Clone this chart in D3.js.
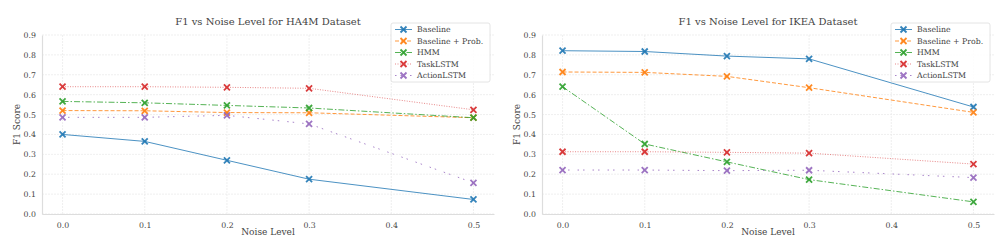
<!DOCTYPE html>
<html>
<head>
<meta charset="utf-8">
<script src="https://cdn.jsdelivr.net/npm/d3@7"></script>
<style>
  body { margin: 0; background: #fff; }
  text { font-family: "DejaVu Serif", serif; fill: #444; }
</style>
</head>
<body>
<div id="chart"></div>
<script>
// data
var noiseLevels = [0.0, 0.1, 0.2, 0.3, 0.5];
var xTicks = [0.0, 0.1, 0.2, 0.3, 0.4, 0.5];
var yTicks = [0.0, 0.1, 0.2, 0.3, 0.4, 0.5, 0.6, 0.7, 0.8, 0.9];
var methods = ["Baseline", "Baseline + Prob.", "HMM", "TaskLSTM", "ActionLSTM"];

var ha4mBaseline   = [0.400, 0.365, 0.270, 0.175, 0.073];
var ha4mProb       = [0.520, 0.519, 0.510, 0.509, 0.484];
var ha4mHMM        = [0.566, 0.559, 0.546, 0.533, 0.484];
var ha4mTask       = [0.640, 0.640, 0.637, 0.632, 0.524];
var ha4mAction     = [0.486, 0.486, 0.496, 0.453, 0.157];

var ikeaBaseline   = [0.821, 0.817, 0.794, 0.780, 0.538];
var ikeaProb       = [0.714, 0.712, 0.692, 0.635, 0.511];
var ikeaHMM        = [0.640, 0.352, 0.262, 0.173, 0.061];
var ikeaTask       = [0.313, 0.313, 0.310, 0.306, 0.251];
var ikeaAction     = [0.221, 0.221, 0.218, 0.220, 0.183];

var colors = ["#1f77b4", "#ff7f0e", "#2ca02c", "#d62728", "#9467bd"];
var dashes = [null, "4,2", "6,2,1.5,2", "1,1.5", "1.5,4,1.5,8"];

var svg = d3.select("#chart").append("svg")
    .attr("width", 1000)
    .attr("height", 244);

function drawPanel(offsetX, title, seriesList) {
  var margin = {top: 35, left: 42, width: 452, height: 179};
  var g = svg.append("g")
      .attr("transform", "translate(" + (offsetX + margin.left) + "," + margin.top + ")");

  var x = d3.scaleLinear().domain([-0.025, 0.525]).range([0, margin.width]);
  var y = d3.scaleLinear().domain([0, 0.9]).range([margin.height, 0]);

  // grid
  g.selectAll(".gx").data(xTicks).enter().append("line")
      .attr("x1", function(d) { return x(d); }).attr("x2", function(d) { return x(d); })
      .attr("y1", 0).attr("y2", margin.height)
      .attr("stroke", "#ebebeb").attr("stroke-width", 0.8).attr("stroke-dasharray", "2,1");
  g.selectAll(".gy").data(yTicks).enter().append("line")
      .attr("x1", 0).attr("x2", margin.width)
      .attr("y1", function(d) { return y(d); }).attr("y2", function(d) { return y(d); })
      .attr("stroke", "#ebebeb").attr("stroke-width", 0.8).attr("stroke-dasharray", "2,1");

  // axes
  var xAxis = g.append("g")
      .attr("transform", "translate(0," + margin.height + ")")
      .call(d3.axisBottom(x).tickValues(xTicks).tickFormat(d3.format(".1f")).tickSize(0).tickPadding(8));
  var yAxis = g.append("g")
      .call(d3.axisLeft(y).tickValues(yTicks).tickFormat(d3.format(".1f")).tickSize(0).tickPadding(6));
  [xAxis, yAxis].forEach(function(a) {
    a.select(".domain").attr("stroke", "#ddd").attr("stroke-width", 1.2);
    a.selectAll("text").style("font-family", "DejaVu Serif").style("font-size", "7.8px").attr("fill", "#555");
  });

  // lines and markers
  var line = d3.line()
      .x(function(d, i) { return x(noiseLevels[i]); })
      .y(function(d) { return y(d); });

  seriesList.forEach(function(vals, k) {
    g.append("path")
        .datum(vals)
        .attr("d", line)
        .attr("fill", "none")
        .attr("stroke", colors[k])
        .attr("stroke-width", 1)
        .attr("stroke-opacity", k == 3 ? 0.55 : 0.8)
        .attr("stroke-dasharray", dashes[k]);
    g.selectAll(".m" + k).data(vals).enter().append("path")
        .attr("transform", function(d, i) { return "translate(" + x(noiseLevels[i]) + "," + y(d) + ")"; })
        .attr("d", "M-3,-3L3,3M-3,3L3,-3")
        .attr("stroke", colors[k])
        .attr("stroke-width", 1.8)
        .attr("opacity", 0.9);
  });

  // titles
  g.append("text")
      .attr("x", margin.width / 2)
      .attr("y", -10)
      .style("text-anchor", "middle")
      .style("font-size", "10px")
      .text(title);
  g.append("text")
      .attr("x", margin.width / 2)
      .attr("y", margin.height + 21)
      .style("text-anchor", "middle")
      .style("font-size", "9px")
      .text("Noise Level");
  g.append("text")
      .attr("transform", "rotate(-90)")
      .attr("x", -margin.height / 2)
      .attr("y", -22)
      .style("text-anchor", "middle")
      .style("font-size", "9px")
      .text("F1 Score");

  // legend
  var leg = g.append("g").attr("transform", "translate(" + (margin.width - 103) + "," + (-12) + ")");
  leg.append("rect")
      .attr("width", 99).attr("height", 59)
      .attr("rx", 2)
      .attr("fill", "#fff").attr("fill-opacity", 0.85)
      .attr("stroke", "#ddd").attr("stroke-width", 0.8);
  methods.forEach(function(name, k) {
    var ly = 6.5 + k * 11.5;
    leg.append("line")
        .attr("x1", 4).attr("x2", 21).attr("y1", ly).attr("y2", ly)
        .attr("stroke", colors[k]).attr("stroke-width", 1)
        .attr("stroke-opacity", k == 3 ? 0.55 : 0.8)
        .attr("stroke-dasharray", dashes[k]);
    leg.append("path")
        .attr("transform", "translate(12.5," + ly + ")")
        .attr("d", "M-3,-3L3,3M-3,3L3,-3")
        .attr("stroke", colors[k]).attr("stroke-width", 1.8).attr("opacity", 0.9);
    leg.append("text")
        .attr("x", 26).attr("y", ly)
        .attr("dy", "0.35em")
        .style("font-size", "7.8px")
        .text(name);
  });
}

drawPanel(0, "F1 vs Noise Level for HA4M Dataset", [ha4mBaseline, ha4mProb, ha4mHMM, ha4mTask, ha4mAction]);
drawPanel(500, "F1 vs Noise Level for IKEA Dataset", [ikeaBaseline, ikeaProb, ikeaHMM, ikeaTask, ikeaAction]);
</script>
</body>
</html>
